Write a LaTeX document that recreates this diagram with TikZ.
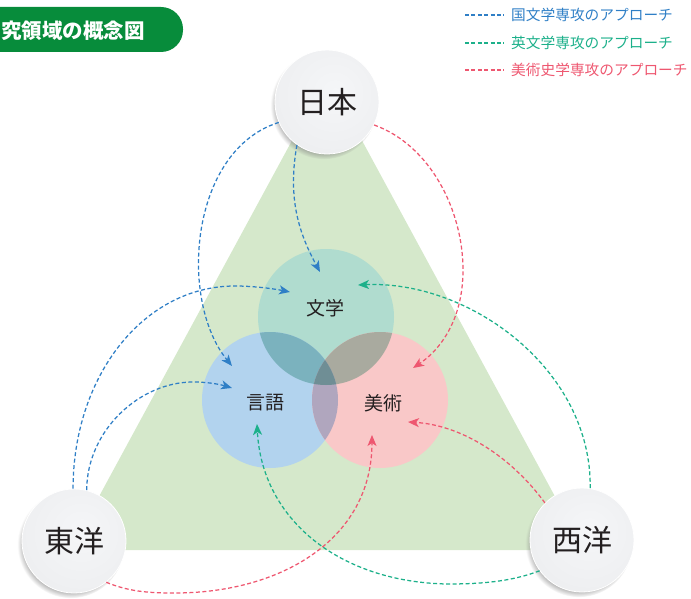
\documentclass[tikz,border=0pt]{standalone}
\usepackage{fontspec}
\newfontfamily\jp{Noto Sans CJK JP}
\usetikzlibrary{arrows.meta,shadows}
\definecolor{blueA}{HTML}{2F7FC6}
\definecolor{greenA}{HTML}{1CB08A}
\definecolor{pinkA}{HTML}{EE5770}
\definecolor{triG}{HTML}{D5E8CB}
\definecolor{cBun}{HTML}{B0DCCF}
\definecolor{cGen}{HTML}{B2D3EE}
\definecolor{cBi}{HTML}{F9C8C8}
\definecolor{oBG}{HTML}{7BB2BE}
\definecolor{oBB}{HTML}{A9AA9F}
\definecolor{oGB}{HTML}{B0A6BE}
\definecolor{oAll}{HTML}{6F8E95}
\definecolor{bannerG}{HTML}{078C3B}
\definecolor{ink}{HTML}{231F20}
\definecolor{ballA}{HTML}{F5F6F8}
\definecolor{ballB}{HTML}{EDEEF0}
\definecolor{ballC}{HTML}{DCDDE0}
\definecolor{ballD}{HTML}{B0B1B4}
\pgfdeclareradialshading{outerball}{\pgfpoint{4bp}{5bp}}{color(0bp)=(ballA); color(32bp)=(ballB); color(45bp)=(ballC); color(53bp)=(ballD); color(80bp)=(ballD)}
\tikzset{
  venn/.style={circle, minimum size=136pt, inner sep=0pt, draw=none},
  vlabel/.style={inner sep=0pt, text=ink, font=\jp\fontsize{19}{19}\selectfont},
  outer/.style={circle, minimum size=104pt, inner sep=0pt, shading=outerball, draw=white, line width=0.8pt,
    circular drop shadow={shadow xshift=-3pt, shadow yshift=-3.5pt, shadow scale=1.03, opacity=0.7},
    text=ink, font=\jp\fontsize{30}{30}\selectfont},
  conn/.style={dash pattern=on 4pt off 2.5pt, line width=1.25pt, -{Stealth[length=11pt,width=9pt,inset=3pt]}},
  legline/.style={dash pattern=on 4pt off 2.4pt, line width=1.2pt},
  legtext/.style={anchor=west, inner sep=0pt, font=\jp\fontsize{14.7}{14.7}\selectfont},
}
\begin{document}
\begin{tikzpicture}[x=1pt,y=-1pt]
\useasboundingbox (0,0) rectangle (691,599);
% title banner
\fill[bannerG, rounded corners=22pt] (-40,7) rectangle (183,52);
\node[anchor=west, inner sep=0pt, text=white, font=\jp\bfseries\fontsize{20.5}{20.5}\selectfont] (title) at (1,30.5) {究領域の概念図};
% legend
\coordinate (lg1a) at (465,15); \coordinate (lg1b) at (504,15);
\coordinate (lg2a) at (465,43); \coordinate (lg2b) at (504,43);
\coordinate (lg3a) at (465,70); \coordinate (lg3b) at (504,70);
\draw[legline, blueA] (lg1a) -- (lg1b);
\draw[legline, greenA] (lg2a) -- (lg2b);
\draw[legline, pinkA] (lg3a) -- (lg3b);
\node[legtext, text=blueA] (lt1) at (511,15) {国文学専攻のアプローチ};
\node[legtext, text=greenA] (lt2) at (511,43) {英文学専攻のアプローチ};
\node[legtext, text=pinkA] (lt3) at (511,70) {美術史学専攻のアプローチ};
% triangle
\fill[triG] (327,76) -- (584,550) -- (70,550) -- cycle;
% venn circles
\node[venn, fill=cBun] (bun) at (326,317) {};
\node[venn, fill=cGen] (gen) at (270,400) {};
\node[venn, fill=cBi] (bi) at (380,400) {};
\begin{scope}
  \clip (bun.center) circle (68pt);
  \fill[oBG] (gen.center) circle (68pt);
\end{scope}
\begin{scope}
  \clip (bun.center) circle (68pt);
  \fill[oBB] (bi.center) circle (68pt);
\end{scope}
\begin{scope}
  \clip (gen.center) circle (68pt);
  \fill[oGB] (bi.center) circle (68pt);
\end{scope}
\begin{scope}
  \clip (bun.center) circle (68pt);
  \clip (gen.center) circle (68pt);
  \fill[oAll] (bi.center) circle (68pt);
\end{scope}
\node[vlabel] (tbun) at (325,308) {文学};
\node[vlabel] (tgen) at (265,403) {言語};
\node[vlabel] (tbi) at (383,403) {美術};
% outer nodes
\node[outer] (jp) at (327,102) {日本};
\node[outer] (to) at (74,541) {東洋};
\node[outer] (sei) at (582,540) {西洋};
% arrow tips
\coordinate (tA) at (320,272);
\coordinate (tB) at (232,366);
\coordinate (tC) at (290,292);
\coordinate (tD) at (232,388);
\coordinate (tE) at (358,285);
\coordinate (tF) at (257,424);
\coordinate (tG) at (413,368);
\coordinate (tH) at (408,422);
\coordinate (tI) at (372,435);
% blue
\draw[conn, blueA] (jp.-125) .. controls (287,200) and (300,235) .. (tA);
\draw[conn, blueA] (jp.-157) .. controls (190,150) and (178,300) .. (tB);
\draw[conn, blueA] (to.91) .. controls (73,377) and (143,286) .. (235,286) .. controls (255,286) and (275,289) .. (tC);
\draw[conn, blueA] (to.76) .. controls (87,430) and (140,382) .. (193,382) .. controls (210,382) and (222,385) .. (tD);
% green
\draw[conn, greenA] (sei.81) .. controls (592,370) and (470,280) .. (tE);
\draw[conn, greenA] (sei.-144) .. controls (510,582) and (480,584) .. (447,584) .. controls (340,582) and (262,520) .. (tF);
% pink
\draw[conn, pinkA] (jp.-26) .. controls (430,145) and (463,210) .. (463,270) .. controls (463,320) and (440,350) .. (tG);
\draw[conn, pinkA] (sei.135) .. controls (510,455) and (460,425) .. (tH);
\draw[conn, pinkA] (to.-52) .. controls (130,592) and (150,593) .. (175,593) .. controls (280,593) and (372,540) .. (tI);
\end{tikzpicture}
\end{document}
